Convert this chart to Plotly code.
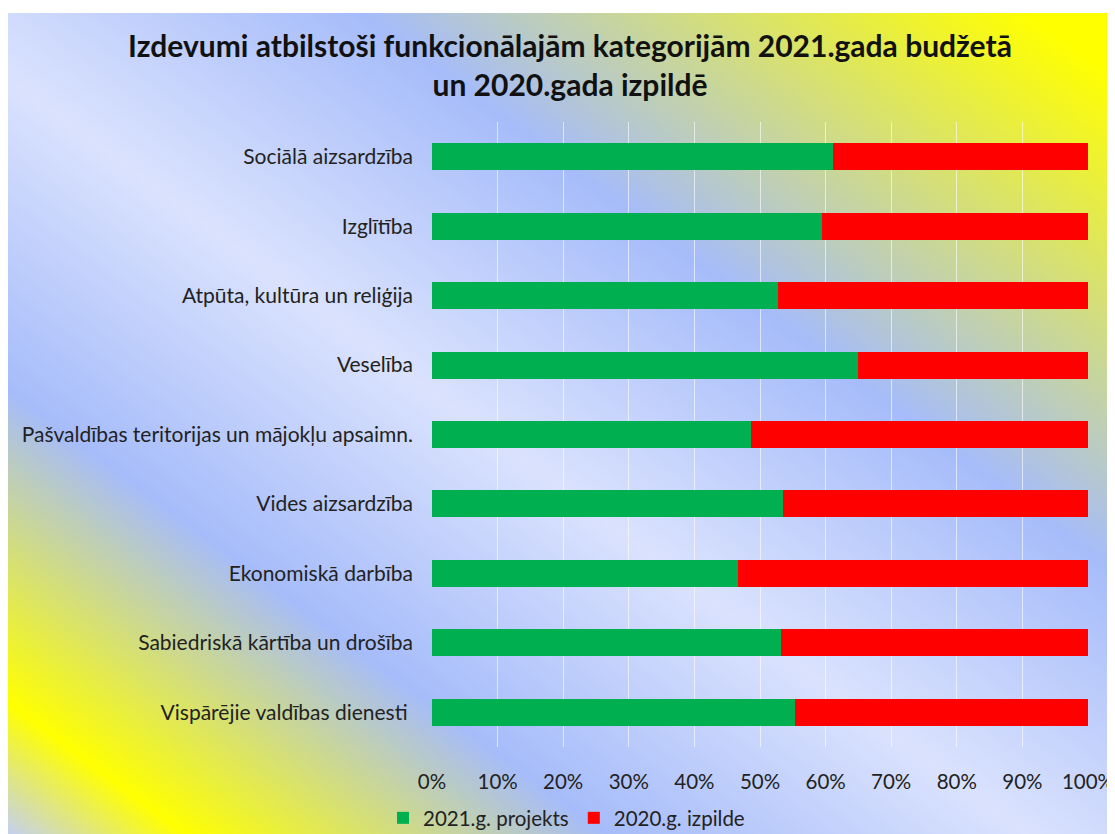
import base64
import plotly.graph_objects as go

categories = [
    "Sociālā aizsardzība",
    "Izglītība",
    "Atpūta, kultūra un reliģija",
    "Veselība",
    "Pašvaldības teritorijas un mājokļu apsaimn.",
    "Vides aizsardzība",
    "Ekonomiskā darbība",
    "Sabiedriskā kārtība un drošība",
    "Vispārējie valdības dienesti\u00a0",
]
projekts_2021 = [61.1, 59.5, 52.7, 64.9, 48.6, 53.5, 46.6, 53.2, 55.3]
izpilde_2020 = [38.9, 40.5, 47.3, 35.1, 51.4, 46.5, 53.4, 46.8, 44.7]
series_names = ["2021.g. projekts", "2020.g. izpilde"]
tick_vals = [0, 10, 20, 30, 40, 50, 60, 70, 80, 90, 100]
tick_text = ["0%", "10%", "20%", "30%", "40%", "50%", "60%", "70%", "80%", "90%", "100%"]
title_text = "Izdevumi atbilstoši funkcionālajām kategorijām 2021.gada budžetā<br>un 2020.gada izpildē"

# figure is placed by the page at an 8px offset, so work in figure pixels
W, H = 1107, 826
L, R, T, B = 424, 27, 114, 87
pw, ph = W - L - R, H - T - B

def px_x(p):
    return (p - L) / pw

def px_y(p):
    return (H - B - p) / ph

# background gradient (decoration only)
svg = (
    '<svg xmlns="http://www.w3.org/2000/svg" width="1107" height="821" viewBox="0 0 1107 821" preserveAspectRatio="none">'
    '<defs><linearGradient id="g" x1="0" y1="1" x2="1" y2="0">'
    '<stop offset="0" stop-color="#C4D0F0"/>'
    '<stop offset="0.08" stop-color="#FFFF00"/>'
    '<stop offset="0.27" stop-color="#A6BCFA"/>'
    '<stop offset="0.46" stop-color="#DAE2FD"/>'
    '<stop offset="0.66" stop-color="#A6BCFA"/>'
    '<stop offset="0.96" stop-color="#FFFF00"/>'
    '<stop offset="1" stop-color="#FFFF00"/>'
    '</linearGradient></defs>'
    '<rect width="1107" height="821" fill="url(#g)"/></svg>'
)
bg_src = "data:image/svg+xml;base64," + base64.b64encode(svg.encode()).decode()

fig = go.Figure()
fig.add_trace(go.Bar(
    y=categories, x=projekts_2021, name=series_names[0], orientation="h",
    marker=dict(color="#00B050", line=dict(width=0)),
))
fig.add_trace(go.Bar(
    y=categories, x=izpilde_2020, name=series_names[1], orientation="h",
    marker=dict(color="#FF0000", line=dict(width=0)),
))

fig.update_layout(
    width=W, height=H,
    margin=dict(l=L, r=R, t=T, b=B, autoexpand=False),
    paper_bgcolor="white",
    plot_bgcolor="rgba(0,0,0,0)",
    barmode="stack",
    bargap=0.61,
    font=dict(family="Lato, sans-serif", size=21, color="#222222"),
    title=dict(
        text=title_text,
        font=dict(family="Lato, sans-serif", size=30, color="#111111", weight="bold"),
        x=562 / W, xanchor="center",
        y=1 - 49 / H, yanchor="middle",
    ),
    xaxis=dict(
        range=[0, 100],
        tickvals=tick_vals, ticktext=tick_text,
        showgrid=True, gridcolor="rgba(255,255,255,0.6)", gridwidth=1,
        zeroline=False, showline=False,
        ticks="", ticklabelstandoff=20,
        tickfont=dict(size=20.5),
        fixedrange=True,
    ),
    yaxis=dict(
        autorange="reversed",
        showgrid=False, zeroline=False, showline=False,
        ticks="", ticklabelstandoff=18,
        tickfont=dict(size=21),
    ),
    legend=dict(
        orientation="h",
        x=px_x(375), xanchor="left",
        y=px_y(810), yanchor="middle",
        bgcolor="rgba(0,0,0,0)",
        font=dict(size=20.5),
        traceorder="normal",
    ),
    images=[dict(
        source=bg_src, xref="paper", yref="paper",
        x=px_x(0), y=px_y(5), sizex=W / pw, sizey=(H - 5) / ph,
        xanchor="left", yanchor="top", sizing="stretch", layer="below",
    )],
)

fig.write_html("out.html")
